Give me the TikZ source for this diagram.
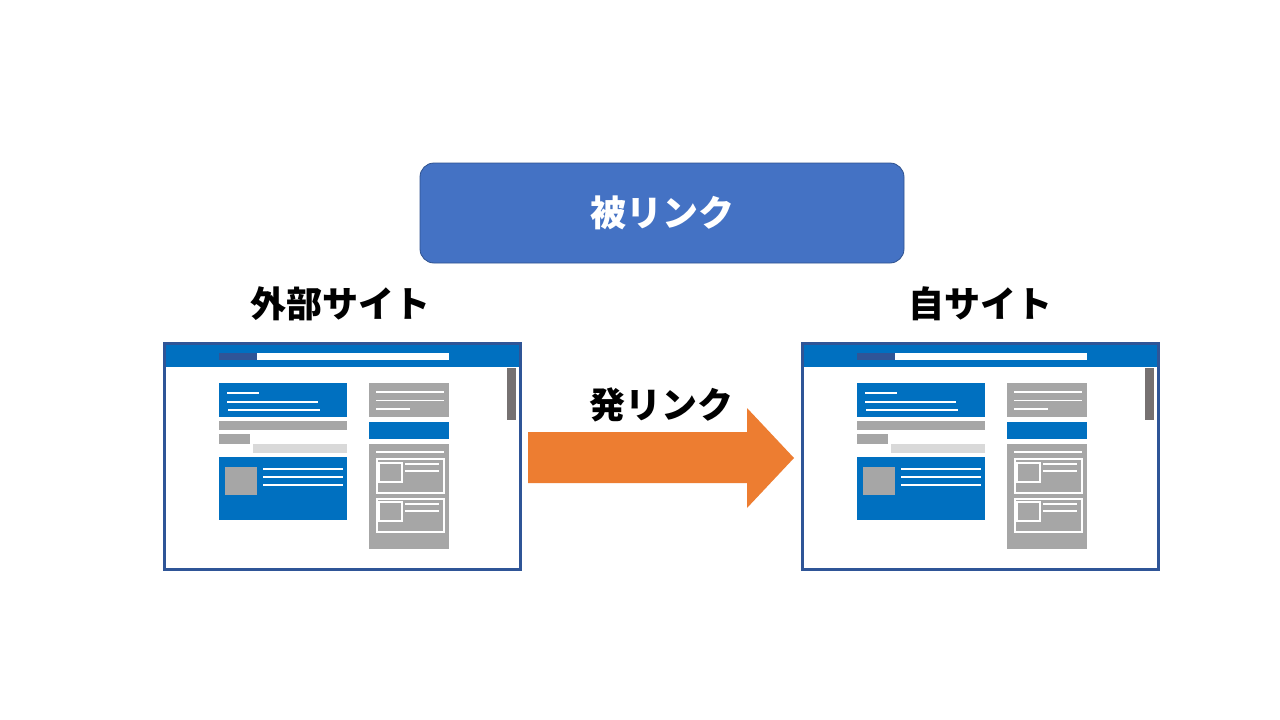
\documentclass[tikz,border=0pt]{standalone}
\usepackage{fontspec}
\newfontfamily\jp{Noto Sans CJK JP}
\definecolor{frameblue}{HTML}{2F5597}
\definecolor{barblue}{HTML}{0070C0}
\definecolor{boxblue}{HTML}{4472C4}
\definecolor{boxedge}{HTML}{2F528F}
\definecolor{midgray}{HTML}{A6A6A6}
\definecolor{lightgray}{HTML}{D9D9D9}
\definecolor{scrollgray}{HTML}{767171}
\definecolor{arroworange}{HTML}{ED7D31}
\tikzset{
  wline/.style={draw=white,line width=1.3pt},
  lbl/.style={font=\jp\bfseries\fontsize{36}{40}\selectfont,text=black,inner sep=0pt},
}
\newcommand\browserpic{%
  \fill[white] (164,343) rectangle (521,570);
  \fill[barblue] (164,343) rectangle (521,367);
  \fill[frameblue] (219,353) rectangle (257,360);
  \fill[white] (257,353) rectangle (449,360);
  \fill[scrollgray] (507,368) rectangle (516,420);
  % left column
  \fill[barblue] (219,383) rectangle (347,417);
  \draw[wline] (227,393) -- (259,393);
  \draw[wline] (227,402) -- (318,402);
  \draw[wline] (228,410) -- (320,410);
  \fill[midgray] (219,421) rectangle (347,430);
  \fill[midgray] (219,434) rectangle (250,444);
  \fill[lightgray] (253,444) rectangle (347,453);
  \fill[barblue] (219,457) rectangle (347,520);
  \fill[midgray] (225,467) rectangle (257,495);
  \draw[wline] (263,469) -- (343,469);
  \draw[wline] (263,477) -- (343,477);
  \draw[wline] (263,485) -- (343,485);
  % right column
  \fill[midgray] (369,383) rectangle (449,417);
  \draw[wline] (376,392) -- (444,392);
  \draw[wline] (376,400.5) -- (444,400.5);
  \draw[wline] (376,409) -- (410,409);
  \fill[barblue] (369,422) rectangle (449,439);
  \fill[midgray] (369,444) rectangle (449,549);
  \draw[wline] (376,452) -- (444,452);
  \draw[wline] (377,459) rectangle (444,493);
  \draw[wline] (379,463) rectangle (402,482);
  \draw[wline] (405,464) -- (439,464);
  \draw[wline] (405,471) -- (439,471);
  \draw[wline] (377,499) rectangle (444,532);
  \draw[wline] (379,502) rectangle (402,521);
  \draw[wline] (405,504) -- (439,504);
  \draw[wline] (405,511) -- (439,511);
  \draw[frameblue,line width=3.4pt] (164.5,343.5) rectangle (520.5,569.5);
}
\begin{document}
\begin{tikzpicture}[x=1pt,y=-1pt]
\useasboundingbox[fill=white] (0,0) rectangle (1280,720);
% top box
\node[draw=boxedge,line width=0.8pt,fill=boxblue,rounded corners=14pt,minimum width=484pt,minimum height=100pt,
      text=white,font=\jp\bfseries\fontsize{36}{40}\selectfont] (hi) at (662,213) {被リンク};
% left browser
\browserpic
\node[lbl] (ext) at (340,304) {外部サイト};
% right browser
\begin{scope}[shift={(638,0)}]
\browserpic
\end{scope}
\node[lbl] (own) at (980,304) {自サイト};
% arrow
\fill[arroworange] (528,432) -- (747,432) -- (747,408) -- (794,458) -- (747,508) -- (747,483) -- (528,483) -- cycle;
\node[lbl] (out) at (661,405) {発リンク};
\end{tikzpicture}
\end{document}
